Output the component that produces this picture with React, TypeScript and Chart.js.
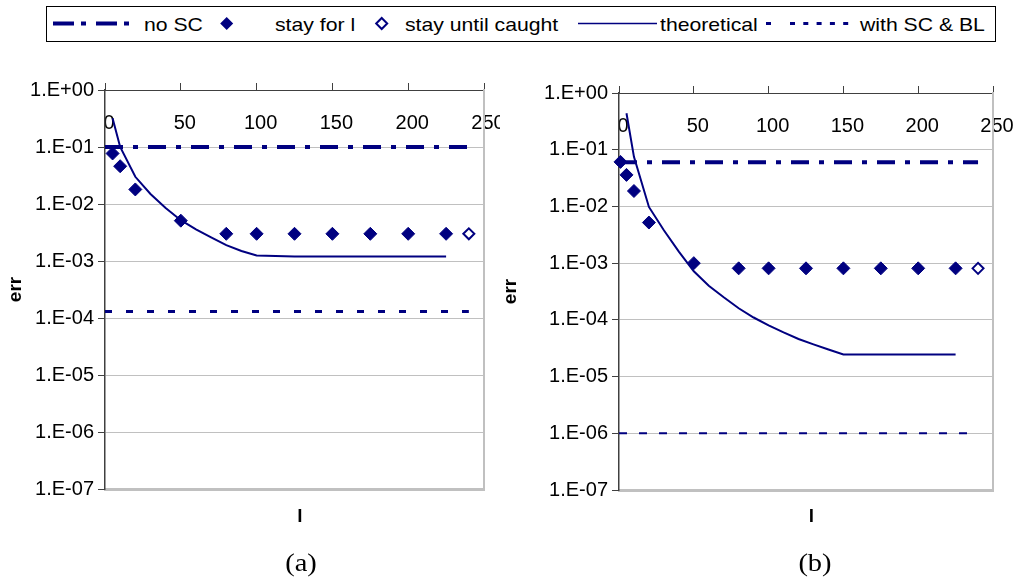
import React, { useEffect, useRef } from "react";
import { Chart, registerables } from "chart.js";

Chart.register(...registerables);

const NAVY = "#000080";
const FONT = "'Liberation Sans', Arial, sans-serif";
const SERIF = "'Liberation Serif', 'Times New Roman', serif";

// shared axes
const xTickValues = [0, 50, 100, 150, 200, 250];
const xTickLabels = ["0", "50", "100", "150", "200", "250"];
const yTickValues = [1e-7, 1e-6, 1e-5, 1e-4, 1e-3, 1e-2, 1e-1, 1];
const yTickLabels = ["1.E-07", "1.E-06", "1.E-05", "1.E-04", "1.E-03", "1.E-02", "1.E-01", "1.E+00"];

// panel (a)
const stayForLXA = [5, 10, 20, 50, 80, 100, 125, 150, 175, 200, 225];
const stayForLYA = [0.077, 0.046, 0.018, 0.0051, 0.003, 0.003, 0.003, 0.003, 0.003, 0.003, 0.003];
const untilCaughtXA = [240];
const untilCaughtYA = [0.003];
const theoreticalXA = [5, 10, 20, 30, 40, 50, 60, 70, 80, 90, 100, 125, 150, 175, 200, 225];
const theoreticalYA = [0.32, 0.1, 0.03, 0.015, 0.0085, 0.0052, 0.0036, 0.0026, 0.0019, 0.0015, 0.00125, 0.0012, 0.0012, 0.0012, 0.0012, 0.0012];
const noSCXA = [0, 240];
const noSCYA = [0.1, 0.1];
const withSCBLXA = [0, 240];
const withSCBLYA = [1.3e-4, 1.3e-4];

// panel (b)
const stayForLXB = [1, 5, 10, 20, 50, 80, 100, 125, 150, 175, 200, 225];
const stayForLYB = [0.061, 0.036, 0.0187, 0.0052, 0.001, 0.00081, 0.00081, 0.00081, 0.00081, 0.00081, 0.00081, 0.00081];
const untilCaughtXB = [240];
const untilCaughtYB = [0.00081];
const theoreticalXB = [5, 10, 20, 30, 40, 50, 60, 70, 80, 90, 100, 110, 120, 130, 140, 150, 175, 200, 225];
const theoreticalYB = [0.44, 0.075, 0.0098, 0.0038, 0.0016, 0.00072, 0.0004, 0.00025, 0.00016, 0.00011, 8e-5, 6e-5, 4.6e-5, 3.7e-5, 3.0e-5, 2.45e-5, 2.45e-5, 2.45e-5, 2.45e-5];
const noSCXB = [0, 240];
const noSCYB = [0.06, 0.06];
const withSCBLXB = [0, 240];
const withSCBLYB = [1e-6, 1e-6];

type PanelSpec = {
  left: number; top: number; w: number; h: number;
  padTop: number; padLeft: number; padRight: number;
  yAxisWidth: number; bottomAxisHeight: number; errPad: number;
  stayX: number[]; stayY: number[];
  caughtX: number[]; caughtY: number[];
  theoX: number[]; theoY: number[];
  noX: number[]; noY: number[];
  blX: number[]; blY: number[];
  blWidth: number; blDash: number[];
};

const pts = (xs: number[], ys: number[]) => xs.map((x, i) => ({ x, y: ys[i] }));

function buildConfig(p: PanelSpec): any {
  const tickFont = { family: FONT, size: 20 };
  const titleFont = { family: FONT, size: 19, weight: "bold", lineHeight: 1 };
  return {
    type: "scatter",
    data: {
      datasets: [
        {
          label: "stay for l", data: pts(p.stayX, p.stayY), pointStyle: "rectRot",
          pointRadius: 6.5, backgroundColor: NAVY, borderColor: NAVY, borderWidth: 1,
          showLine: false, clip: false, order: 0,
        },
        {
          label: "stay until caught", data: pts(p.caughtX, p.caughtY), pointStyle: "rectRot",
          pointRadius: 5.5, backgroundColor: "#ffffff", borderColor: NAVY, borderWidth: 2,
          showLine: false, clip: false, order: 0,
        },
        {
          label: "theoretical", data: pts(p.theoX, p.theoY), showLine: true, pointRadius: 0,
          borderColor: NAVY, backgroundColor: NAVY, borderWidth: 2, tension: 0, order: 1,
        },
        {
          label: "no SC", data: pts(p.noX, p.noY), showLine: true, pointRadius: 0,
          borderColor: NAVY, backgroundColor: NAVY, borderWidth: 4, borderDash: [18, 10, 5, 10], order: 2,
        },
        {
          label: "with SC & BL", data: pts(p.blX, p.blY), showLine: true, pointRadius: 0,
          borderColor: NAVY, backgroundColor: NAVY, borderWidth: p.blWidth, borderDash: p.blDash, order: 2,
        },
      ],
    },
    options: {
      animation: false,
      responsive: false,
      devicePixelRatio: 1,
      events: [],
      layout: { padding: { top: p.padTop, left: p.padLeft, right: p.padRight, bottom: 0 } },
      plugins: { legend: { display: false }, tooltip: { enabled: false } },
      scales: {
        x: {
          type: "linear", position: "top", min: 0, max: 250,
          afterBuildTicks: (s: any) => { s.ticks = xTickValues.map((v) => ({ value: v })); },
          ticks: {
            mirror: true, padding: 21, labelOffset: 4, font: tickFont, color: "#000",
            autoSkip: false, maxRotation: 0,
            callback: (_v: any, i: number) => xTickLabels[i],
          },
          grid: { display: true, drawOnChartArea: false, drawTicks: true, tickLength: 7, tickColor: "#404040", color: "#404040" },
          border: { color: "#404040", width: 1 },
          afterFit: (s: any) => { s.height = 0; s.paddingLeft = 0; s.paddingRight = 0; },
        },
        x2: {
          type: "linear", position: "bottom", min: 0, max: 250,
          ticks: { display: false },
          grid: { display: false },
          border: { color: "#c0c0c0", width: 3 },
          title: { display: true, text: "  l", font: titleFont, color: "#000", padding: { top: 0, bottom: 23.5 } },
          afterFit: (s: any) => { s.height = p.bottomAxisHeight; s.paddingLeft = 0; s.paddingRight = 0; },
        },
        y: {
          type: "logarithmic", position: "left", min: 1e-7, max: 1,
          afterBuildTicks: (s: any) => { s.ticks = yTickValues.map((v) => ({ value: v })); },
          ticks: {
            font: tickFont, color: "#000", padding: 4, autoSkip: false,
            callback: (_v: any, i: number) => yTickLabels[i],
          },
          grid: { color: "#c0c0c0", lineWidth: 1, tickColor: "#404040", tickLength: 7, drawTicks: true },
          border: { color: "#404040", width: 1.5 },
          title: { display: true, text: "err", font: titleFont, color: "#000", padding: { top: p.errPad, bottom: 0 } },
          afterFit: (s: any) => { s.width = p.yAxisWidth; },
        },
        y2: {
          type: "linear", position: "right", min: 0, max: 1,
          ticks: { display: false },
          grid: { display: false },
          border: { color: "#c0c0c0", width: 2 },
          afterFit: (s: any) => { s.width = 0; s.paddingTop = 0; s.paddingBottom = 0; },
        },
      },
    },
  };
}

function Panel({ spec }: { spec: PanelSpec }) {
  const ref = useRef<HTMLCanvasElement>(null);
  useEffect(() => {
    const chart = new Chart(ref.current as HTMLCanvasElement, buildConfig(spec));
    return () => chart.destroy();
  }, []);
  return (
    <canvas
      ref={ref}
      width={spec.w}
      height={spec.h}
      style={{ position: "absolute", left: spec.left, top: spec.top, width: spec.w, height: spec.h }}
    />
  );
}

const panelA: PanelSpec = {
  left: 0, top: 50, w: 500, h: 500,
  padTop: 40, padLeft: 0, padRight: 16,
  yAxisWidth: 105, bottomAxisHeight: 61, errPad: 6,
  stayX: stayForLXA, stayY: stayForLYA,
  caughtX: untilCaughtXA, caughtY: untilCaughtYA,
  theoX: theoreticalXA, theoY: theoreticalYA,
  noX: noSCXA, noY: noSCYA,
  blX: withSCBLXA, blY: withSCBLYA,
  blWidth: 3, blDash: [7, 14],
};

const panelB: PanelSpec = {
  left: 500, top: 50, w: 523, h: 500,
  padTop: 43, padLeft: 0, padRight: 30,
  yAxisWidth: 119, bottomAxisHeight: 60, errPad: 1.5,
  stayX: stayForLXB, stayY: stayForLYB,
  caughtX: untilCaughtXB, caughtY: untilCaughtYB,
  theoX: theoreticalXB, theoY: theoreticalYB,
  noX: noSCXB, noY: noSCYB,
  blX: withSCBLXB, blY: withSCBLYB,
  blWidth: 2, blDash: [8, 12],
};

const legendLabels = ["no SC", "stay for l", "stay until caught", "theoretical", "with SC & BL"];
const legendTextX = [144, 275, 405, 660, 860];

function Legend() {
  const cy = 23.5;
  const textStyle = (x: number): React.CSSProperties => ({
    position: "absolute", left: x, top: 15.4, fontFamily: FONT, fontSize: 19,
    lineHeight: "19px", whiteSpace: "nowrap", color: "#000",
    transform: "scaleX(1.116)", transformOrigin: "left center",
  });
  return (
    <>
      <div style={{
        position: "absolute", left: 46, top: 6, width: 950, height: 36,
        border: "1.5px solid #000", boxSizing: "border-box", background: "#fff",
      }} />
      <svg width={1023} height={50} style={{ position: "absolute", left: 0, top: 0 }}>
        <line x1={53} y1={cy} x2={130} y2={cy} stroke={NAVY} strokeWidth={4} strokeDasharray="21 7 5 10" />
        <polygon points={`220.2,${cy} 226.7,${cy - 6.5} 233.2,${cy} 226.7,${cy + 6.5}`} fill={NAVY} />
        <polygon points={`376.2,${cy} 381.7,${cy - 5.5} 387.2,${cy} 381.7,${cy + 5.5}`} fill="#fff" stroke={NAVY} strokeWidth={2} />
        <line x1={578} y1={cy} x2={657} y2={cy} stroke={NAVY} strokeWidth={1.5} />
        <line x1={766} y1={cy} x2={771} y2={cy} stroke={NAVY} strokeWidth={3} />
        <line x1={790} y1={cy} x2={856} y2={cy} stroke={NAVY} strokeWidth={3} strokeDasharray="5 8.3" />
      </svg>
      {legendLabels.map((t, i) => (
        <span key={t} style={textStyle(legendTextX[i])}>{t}</span>
      ))}
    </>
  );
}

const panelCaptions = ["(a)", "(b)"];
const captionCenterX = [301, 815];

export default function App() {
  return (
    <div style={{ position: "absolute", left: 0, top: 0, width: 1023, height: 580, background: "#fff", overflow: "hidden" }}>
      <Legend />
      <Panel spec={panelA} />
      <Panel spec={panelB} />
      {panelCaptions.map((c, i) => (
        <div key={c} style={{
          position: "absolute", left: captionCenterX[i] - 50, top: 549.6, width: 100,
          textAlign: "center", fontFamily: SERIF, fontSize: 25, lineHeight: "25px",
          transform: "scaleX(1.14)", transformOrigin: "center", color: "#000",
        }}>{c}</div>
      ))}
    </div>
  );
}
